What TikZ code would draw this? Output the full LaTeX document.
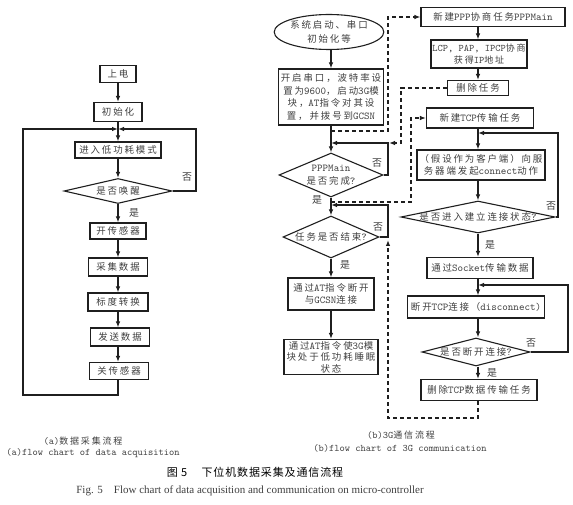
\documentclass[tikz,border=0pt]{standalone}
\usepackage{fontspec}
\setmainfont{Liberation Serif}
\newfontfamily\cjk[LetterSpace=20,Scale=0.9]{Noto Sans CJK SC}
\newfontfamily\cjkcap[LetterSpace=8]{Noto Sans CJK SC}
\newcommand\zh[1]{{\cjk #1}}
\usetikzlibrary{arrows.meta,shapes.geometric}
\definecolor{linec}{gray}{0.12}
\definecolor{textgray}{gray}{0.25}
\tikzset{
  boxtext/.style={font=\ttfamily\fontsize{10.5}{12.5}\selectfont, text=textgray, align=center},
  ln/.style={line width=1.1pt, draw=linec},
  box/.style={ln, rectangle, inner sep=1pt, boxtext},
  ell/.style={ln, ellipse, inner sep=0pt, boxtext},
  dia/.style={ln, diamond, inner sep=0pt},
  arr/.style={ln, -{Latex[length=6pt,width=4.5pt]}},
  dline/.style={ln, dash pattern=on 4pt off 3pt},
  darr/.style={dline, -{Latex[length=6pt,width=4.5pt]}},
  lbl/.style={font=\cjk\fontsize{11}{12}\selectfont, text=textgray},
  captxt/.style={text=textgray}
}
\begin{document}
\begin{tikzpicture}[x=1pt,y=-1pt]
\path[use as bounding box, fill=white] (0,0) rectangle (573,505);

% ---------------- (a) ----------------
\node[box, minimum width=36pt, minimum height=17pt] (a1) at (118,74) {\zh{上电}};
\node[box, minimum width=48pt, minimum height=19pt] (a2) at (118,112) {\zh{初始化}};
\coordinate (aj) at (118,129);
\node[box, minimum width=86pt, minimum height=16pt] (a3) at (118,150) {\zh{进入低功耗模式}};
\node[dia, minimum width=108pt, minimum height=25pt, label={[boxtext]center:\zh{是否唤醒}}] (a4) at (118,191) {};
\node[box, minimum width=56pt, minimum height=16pt] (a5) at (118,231) {\zh{开传感器}};
\node[box, minimum width=59pt, minimum height=18pt] (a6) at (118,267) {\zh{采集数据}};
\node[box, minimum width=60pt, minimum height=18pt] (a7) at (118,302) {\zh{标度转换}};
\node[box, minimum width=59pt, minimum height=18pt] (a8) at (120,337) {\zh{发送数据}};
\node[box, minimum width=59pt, minimum height=17pt] (a9) at (119,371) {\zh{关传感器}};

\draw[arr] (a1) -- (a2);
\draw[arr] (a2) -- (a3);
\draw[arr] (a3) -- (a4);
\draw[arr] (a4) -- (a5);
\draw[arr] (a5) -- (a6);
\draw[arr] (a6) -- (a7);
\draw[arr] (a7.south) -- (a7.south |- a8.north);
\draw[arr] (a8.south -| a7) -- (a7 |- a9.north);
\draw[arr] (a4.east) -- (196,191) -- (196,129) -- (aj);
\draw[arr] (a9.south -| a7) -- (118,395) -- (23,395) -- (23,129) -- (aj);
\node[lbl] (an) at (187,177) {否};
\node[lbl] (ay) at (134,213) {是};

% ---------------- (b) middle column ----------------
\node[ell, minimum width=92pt, minimum height=35pt, boxtext, font=\ttfamily\fontsize{10.5}{14}\selectfont] (m1) at (329,32) {\zh{系统启动、串口}\\\zh{初始化等}};
\node[box, minimum width=105pt, minimum height=56pt] (m2) at (331,97)
  {\zh{开启串口，波特率设}\\\zh{置为}9600\zh{，启动}3G\zh{模}\\\zh{块，}AT\zh{指令对其设}\\\zh{置，并拨号到}GCSN};
\coordinate (mj1) at (331,131);
\coordinate (mj2) at (331,143);
\coordinate (mj2r) at (389,143);
\node[dia, minimum width=104pt, minimum height=44pt, label={[boxtext]center:PPPMain\\\zh{是否完成}?}] (m3) at (331,175) {};
\coordinate (mj3) at (331,205);
\coordinate (mj4) at (331,202);
\node[dia, minimum width=96pt, minimum height=42pt, label={[boxtext]center:\zh{任务是否结束}?}] (m4) at (331,237) {};
\coordinate (mj5) at (388,240);
\node[box, minimum width=86pt, minimum height=32pt] (m5) at (331,294) {\zh{通过}AT\zh{指令断开}\\\zh{与}GCSN\zh{连接}};
\node[box, minimum width=94pt, minimum height=35pt, font=\ttfamily\fontsize{10.5}{11.5}\selectfont] (m6) at (331,357) {\zh{通过}AT\zh{指令使}3G\zh{模}\\\zh{块处于低功耗睡眠}\\\zh{状态}};

\draw[arr] (m1.south -| m2) -- (m2.north);
\draw[arr] (m2) -- (m3);
\draw[arr] (m3) -- (m4);
\draw[arr] (m4) -- (m5);
\draw[arr] (m5) -- (m6);
\draw[arr] (m3.east) -- (388,175) -- (388,143) -- (mj2);
\draw[arr] (m4.east) -- (388,237) -- (388,205) -- (mj3);
\node[lbl] (mn1) at (377,163) {否};
\node[lbl] (my1) at (317,200) {是};
\node[lbl] (mn2) at (378,227) {否};
\node[lbl] (my2) at (345,265) {是};

% ---------------- (b) right column ----------------
\node[box, minimum width=144pt, minimum height=19pt] (r1) at (493,17) {\zh{新建}PPP\zh{协商任务}PPPMain};
\node[box, minimum width=96pt, minimum height=28pt, font=\ttfamily\fontsize{10}{12}\selectfont] (r2) at (479,54) {LCP, PAP, IPCP\zh{协商}\\\zh{获得}IP\zh{地址}};
\node[box, minimum width=61pt, minimum height=15pt] (r3) at (478,88) {\zh{删除任务}};
\node[box, minimum width=107pt, minimum height=20pt] (r4) at (480,118) {\zh{新建}TCP\zh{传输任务}};
\coordinate (rj1) at (478,133);
\node[box, minimum width=128pt, minimum height=30pt] (r5) at (481,165) {\zh{（假设作为客户端）向服}\\\zh{务器端发起}connect\zh{动作}};
\node[dia, minimum width=154pt, minimum height=32pt, label={[boxtext]center:\zh{是否进入建立连接状态}?}] (r6) at (478,217) {};
\node[box, minimum width=106pt, minimum height=21pt] (r7) at (480,268) {\zh{通过}Socket\zh{传输数据}};
\coordinate (rj2) at (478,285);
\node[box, minimum width=137pt, minimum height=22pt] (r8) at (476,307) {\zh{断开}TCP\zh{连接（}disconnect)};
\node[dia, minimum width=108pt, minimum height=28pt, label={[boxtext]center:\zh{是否断开连接}?}] (r9) at (476,352) {};
\node[box, minimum width=116pt, minimum height=21pt] (r10) at (479,390) {\zh{删除}TCP\zh{数据传输任务}};

\draw[arr] (r1.south -| rj1) -- (r2.north -| rj1);
\draw[arr] (r2.south -| rj1) -- (r3.north -| rj1);
\draw[arr] (r4.south -| rj1) -- (r5.north -| rj1);
\draw[arr] (r5.south -| rj1) -- (r6.north);
\draw[arr] (r6.south) -- (r7.north -| rj1);
\draw[arr] (r7.south -| rj1) -- (r8.north -| rj1);
\draw[arr] (r8.south -| rj1) -- (r9.north -| rj1);
\draw[arr] (r9.south -| rj1) -- (r10.north -| rj1);
\draw[arr] (r6.east) -- (558,217) -- (558,133) -- (rj1);
\draw[arr] (r9.east) -- (568,352) -- (568,285) -- (rj2);
\node[lbl] (rn1) at (551,206) {否};
\node[lbl] (ry1) at (490,245) {是};
\node[lbl] (rn2) at (531,343) {否};
\node[lbl] (ry2) at (492,373) {是};

% ---------------- dashed links ----------------
\draw[darr] (mj1) -- (388,131) -- (388,17) -- (r1.west);
\draw[darr] (r3.west) -- (401,88) -- (401,143) -- (mj2r);
\draw[darr] (mj4) -- (411,202) -- (411,118) -- (r4.west);
\draw[darr] (r10.south -| rj1) -- (478,418) -- (388,418) -- (mj5);

% ---------------- captions ----------------
\node[captxt, font=\ttfamily\fontsize{10}{12}\selectfont] (ca1) at (83,441) {(a)\zh{数据采集流程}};
\node[captxt, font=\ttfamily\fontsize{10}{12}\selectfont] (ca2) at (93,453) {(a)flow chart of data acquisition};
\node[captxt, font=\ttfamily\fontsize{10}{12}\selectfont] (cb1) at (401,435) {(b)3G\zh{通信流程}};
\node[captxt, font=\ttfamily\fontsize{10}{12}\selectfont] (cb2) at (400,448) {(b)flow chart of 3G communication};
\node[text=black, font=\cjkcap\fontsize{11}{12}\selectfont] (cf1) at (255,472) {图 5\hspace{1.3em}下位机数据采集及通信流程};
\node[captxt, font=\fontsize{11}{12}\selectfont] (cf2) at (250,491) {Fig. 5\hspace{1em}Flow chart of data acquisition and communication on micro-controller};
\end{tikzpicture}
\end{document}
